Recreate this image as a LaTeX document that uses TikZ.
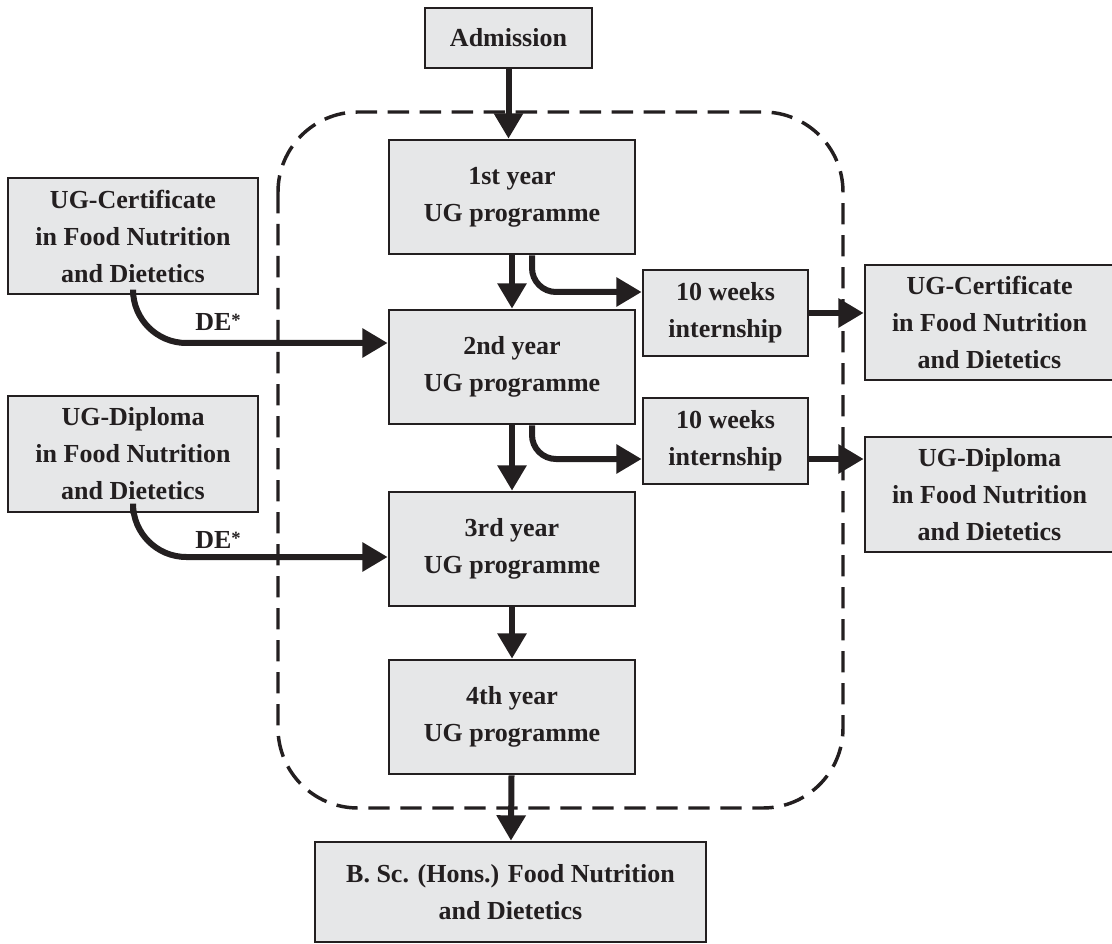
\documentclass[tikz,border=0pt]{standalone}
\usepackage{fontspec}
\setmainfont{Liberation Serif}
\usetikzlibrary{arrows.meta}
\definecolor{boxfill}{HTML}{E6E7E8}
\definecolor{ink}{HTML}{231F20}
\newcommand{\destar}{\raisebox{3pt}{\fontsize{14pt}{14pt}\selectfont*}}
\begin{document}
\begin{tikzpicture}[x=0.75pt,y=-0.75pt,
  box/.style={draw=ink,fill=boxfill,line width=2pt,align=center,
    font=\bfseries\fontsize{19.5pt}{27.75pt}\selectfont,text=ink,inner sep=0pt},
  arr/.style={draw=ink,line width=4.5pt,-{Triangle[length=19pt,width=21pt]}},
  frame/.style={draw=ink,line width=2.6pt,dash pattern=on 16pt off 8pt},
  lbl/.style={font=\bfseries\fontsize{19.5pt}{24pt}\selectfont,text=ink,inner sep=0pt}]
\useasboundingbox (0,0) rectangle (1112,944);

% dashed frame around the four programme years
\draw[frame,rounded corners=60pt] (278,112) rectangle (843,808);

% programme years
\node[box,minimum width=125.25pt,minimum height=45pt] (adm) at (508.5,38) {Admission};
\node[box,minimum width=184.5pt,minimum height=85.5pt] (y1) at (512,197) {1st year\\UG programme};
\node[box,minimum width=184.5pt,minimum height=85.5pt] (y2) at (512,367) {2nd year\\UG programme};
\node[box,minimum width=184.5pt,minimum height=85.5pt] (y3) at (512,549) {3rd year\\UG programme};
\node[box,minimum width=184.5pt,minimum height=85.5pt] (y4) at (512,717) {4th year\\UG programme};
\node[box,minimum width=293.25pt,minimum height=75pt] (bsc) at (510.5,892) {B. Sc. (Hons.) Food Nutrition\\and Dietetics};

% direct entry qualifications
\node[box,minimum width=187.5pt,minimum height=87pt] (lc) at (133,236) {UG-Certificate\\in Food Nutrition\\and Dietetics};
\node[box,minimum width=187.5pt,minimum height=87pt] (ld) at (133,454) {UG-Diploma\\in Food Nutrition\\and Dietetics};

% internships
\node[box,minimum width=123.75pt,minimum height=64.5pt] (i1) at (725.5,313) {10 weeks\\internship};
\node[box,minimum width=123.75pt,minimum height=64.5pt] (i2) at (725.5,441) {10 weeks\\internship};

% exit awards
\node[box,minimum width=186.75pt,minimum height=86.25pt] (rc) at (989.5,322.5) {UG-Certificate\\in Food Nutrition\\and Dietetics};
\node[box,minimum width=186.75pt,minimum height=86.25pt] (rd) at (989.5,494.5) {UG-Diploma\\in Food Nutrition\\and Dietetics};

% main progression
\draw[arr] (adm) -- (adm |- y1.north);
\draw[arr] (y1) -- (y2);
\draw[arr] (y2) -- (y3);
\draw[arr] (y3) -- (y4);
\draw[arr] (y4) -- (bsc);

% internships and exits
\draw[arr,rounded corners=18pt] ([xshift=15pt]y1.south) |- ([yshift=15.75pt]i1.west);
\draw[arr,rounded corners=18pt] ([xshift=15pt]y2.south) |- ([yshift=-13.5pt]i2.west);
\coordinate (o1) at (i1.east);
\coordinate (o2) at ([yshift=-13.5pt]i2.east);
\draw[arr] (o1) -- (o1 -| rc.west);
\draw[arr] (o2) -- (o2 -| rd.west);

% direct entry
\draw[arr,rounded corners=40pt] (lc.south) |- ([yshift=18pt]y2.west);
\draw[arr,rounded corners=40pt] (ld.south) |- ([yshift=-6pt]y3.west);
\node[lbl] (de1) at (218,322) {DE\destar};
\node[lbl] (de2) at (218,540) {DE\destar};
\end{tikzpicture}
\end{document}
